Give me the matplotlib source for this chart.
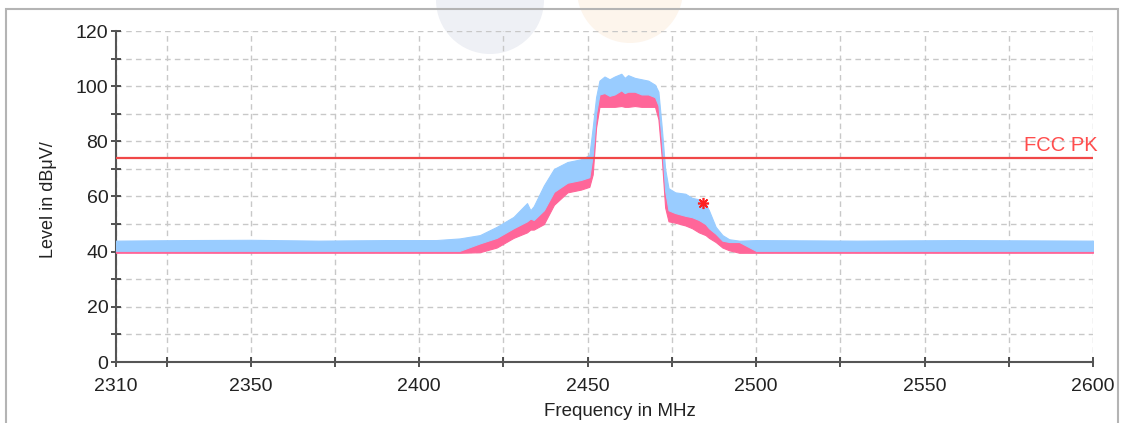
import matplotlib
matplotlib.use("Agg")
import matplotlib.pyplot as plt
from matplotlib.patches import Ellipse, Rectangle
from matplotlib.ticker import FixedLocator, MultipleLocator

plt.rcParams['font.family'] = ['Liberation Sans', 'DejaVu Sans']

# ---------------- data ----------------
freq = [2310, 2330, 2350, 2370, 2390, 2405, 2412, 2418, 2423, 2428, 2432, 2433,
        2434, 2437, 2440, 2444, 2448, 2450.5, 2451.5, 2452.5, 2453.5, 2455, 2456.5,
        2458, 2460, 2461, 2462, 2464, 2466, 2468, 2470, 2471, 2472, 2473, 2474,
        2476, 2479, 2481, 2483, 2485, 2486, 2488, 2490, 2492, 2495, 2500, 2530,
        2560, 2600]

# peak trace (blue) upper envelope
peak_upper = [44.0, 44.2, 44.3, 44.0, 44.2, 44.2, 44.8, 46.0, 49.0, 52.6, 57.6, 55.0,
              56.5, 64.0, 70.0, 72.5, 73.5, 75.0, 85.0, 96.0, 102.0, 103.5, 102.5,
              103.5, 104.5, 103.0, 104.0, 103.0, 102.5, 102.0, 100.5, 98.0, 85.0,
              70.0, 63.0, 61.5, 61.0, 59.5, 59.0, 57.5, 55.0, 49.0, 46.0, 44.5, 44.0,
              44.2, 44.0, 44.2, 44.0]

# average trace (pink) envelope
avg_upper = [43.5, 43.5, 43.6, 43.5, 43.5, 43.5, 43.5, 43.0, 45.0, 48.5, 51.0, 52.0,
             51.5, 55.0, 61.7, 65.0, 66.0, 67.0, 75.0, 90.0, 97.0, 97.5, 96.5,
             97.0, 98.5, 97.5, 98.0, 98.0, 97.0, 97.0, 96.0, 93.0, 80.0, 62.0, 55.0,
             54.0, 53.0, 52.5, 51.5, 50.0, 48.5, 46.5, 44.0, 43.5, 43.5, 43.5, 43.5,
             43.5, 43.5]
avg_lower = [39.6, 39.6, 39.6, 39.6, 39.6, 39.6, 39.6, 39.8, 41.5, 45.0, 47.0, 48.0,
             48.0, 50.0, 57.0, 61.5, 62.5, 63.5, 68.0, 85.0, 92.5, 92.5, 92.5,
             92.5, 92.8, 92.5, 92.5, 92.8, 92.5, 92.5, 92.5, 88.0, 74.0, 56.0, 51.0,
             50.5, 49.5, 48.5, 47.0, 46.0, 45.0, 43.5, 41.5, 40.5, 39.6, 39.6, 39.6,
             39.6, 39.6]

floor_lower = 40.3          # lower edge of the blue trace on the noise floor
limit_level = 74            # FCC PK limit line
limit_label = "FCC PK"
marker_freq = [2484.2]
marker_level = [57.8]

xticks_major = [2310, 2350, 2400, 2450, 2500, 2550, 2600]
xticks_minor = [2325, 2375, 2425, 2475, 2525, 2575]

# ---------------- figure ----------------
W, H = 1131, 423
fig = plt.figure(figsize=(W / 100, H / 100), dpi=100)

# decorative background circles and frame
fig.patches.append(Ellipse((490 / W, 1 - 0 / H), 108 / W, 108 / H, transform=fig.transFigure,
                           facecolor='#eef0f5', edgecolor='none', zorder=0))
fig.patches.append(Ellipse((630 / W, 1 + 10 / H), 106 / W, 106 / H, transform=fig.transFigure,
                           facecolor='#fdf5ec', edgecolor='none', zorder=0))
fig.patches.append(Rectangle((6 / W, -0.1), (1118 - 6) / W, 1.1 - 9.5 / H,
                             transform=fig.transFigure, fill=False,
                             edgecolor='#b4b4b4', linewidth=1.5, zorder=1))

ax = fig.add_axes([116 / W, 1 - 362 / H, (1093 - 116) / W, (362 - 31) / H])
ax.set_facecolor('none')
ax.set_zorder(2)

# blue lower edge: floor value on the noise floor, otherwise the pink top
peak_lower = [floor_lower if (f < 2418 or f > 2495) else u for f, u in zip(freq, avg_upper)]

ax.fill_between(freq, avg_lower, avg_upper, color='#ff6699', linewidth=0.8,
                edgecolor='#ff6699', zorder=3)
ax.fill_between(freq, peak_lower, peak_upper, color='#99ccff', linewidth=0.8,
                edgecolor='#99ccff', zorder=4)

ax.axhline(limit_level, color='#f04848', linewidth=1.6, zorder=5)
ax.text(2601.5, limit_level + 1.0, limit_label, color='#ff4d4d', fontsize=14.5,
        ha='right', va='bottom', clip_on=False, zorder=6)

ax.plot(marker_freq, marker_level, linestyle='none', marker=(8, 2, 0),
        markersize=8, markeredgewidth=1.2, color='#ff2020', zorder=7)

ax.set_xlim(2310, 2600)
ax.set_ylim(0, 120)
ax.xaxis.set_major_locator(FixedLocator(xticks_major))
ax.xaxis.set_minor_locator(FixedLocator(xticks_minor))
ax.yaxis.set_major_locator(MultipleLocator(20))
ax.yaxis.set_minor_locator(MultipleLocator(10))

ax.grid(True, which='both', color='#c8c8c8', linestyle=(0, (4, 3)), linewidth=1.0, zorder=1)
ax.set_axisbelow(True)

for s in ['top', 'right']:
    ax.spines[s].set_visible(False)
for s in ['left', 'bottom']:
    ax.spines[s].set_color('#555555')
    ax.spines[s].set_linewidth(1.5)

ax.tick_params(which='both', direction='inout', length=7, width=1.2, color='#333333',
               labelsize=14, labelcolor='#222222')
ax.tick_params(axis='y', pad=2)
ax.tick_params(axis='x', pad=8)

ax.set_ylabel('Level in dBμV/', fontsize=13, color='#222222')
ax.yaxis.set_label_coords((57 - 116) / (1093 - 116), 0.49)

fig.text(620 / W, 1 - 403 / H, 'Frequency in MHz', fontsize=13.5, color='#222222',
         ha='center', va='top')

fig.savefig('out.png', dpi=100)
